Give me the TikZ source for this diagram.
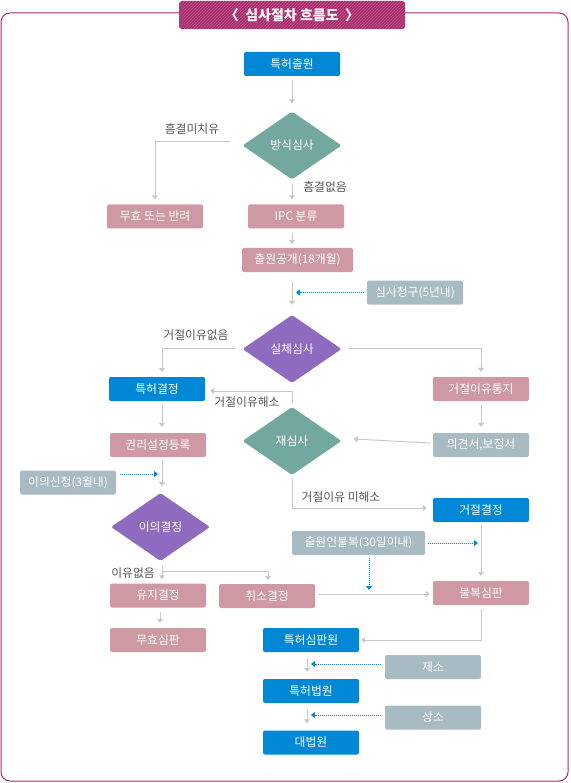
\documentclass[tikz,border=0pt]{standalone}
\usepackage{fontspec}
\setmainfont{Noto Sans CJK KR}
\usepackage{tikz}
\usetikzlibrary{arrows.meta,positioning,shapes.geometric,patterns,calc}
\usepackage{xcolor}
\definecolor{tkBlue}{HTML}{0088D6}
\definecolor{tkPink}{HTML}{CE99A2}
\definecolor{tkGray}{HTML}{A8BAC2}
\definecolor{tkTeal}{HTML}{72A8A0}
\definecolor{tkPurple}{HTML}{8F6BC0}
\definecolor{tkLine}{HTML}{C8C8C8}
\definecolor{tkFrame}{HTML}{A82C6C}
\definecolor{tkText}{HTML}{555555}

\begin{document}
\begin{tikzpicture}[
  x=1pt, y=-1pt,
  font=\fontsize{11.8}{13}\selectfont,
  box/.style={rectangle, rounded corners=2pt, minimum width=96pt, minimum height=24pt, inner sep=0pt, text=white},
  bluebox/.style={box, fill=tkBlue},
  pinkbox/.style={box, fill=tkPink},
  graybox/.style={box, fill=tkGray},
  dia/.style={diamond, rounded corners=2pt, minimum width=99pt, minimum height=68pt, inner sep=0pt, text=white},
  lbl/.style={text=tkText, inner sep=1pt},
  arr/.style={draw=tkLine, line width=1pt, -{Triangle[width=6pt,length=4pt]}},
  dot/.style={draw=tkBlue, densely dotted, line width=1pt, -{Triangle[width=6pt,length=4pt]}},
  banner/.style={rectangle, rounded corners=3pt, fill=tkFrame, minimum width=226pt, minimum height=28pt,
    text=white, font=\bfseries\fontsize{14}{16}\selectfont,
    postaction={pattern=north east lines, pattern color=white!22!tkFrame}}
]
\useasboundingbox (0,0) rectangle (570,783);
\draw[tkFrame, line width=1pt, rounded corners=9pt] (1,13) rectangle (568,781);
\node[banner] (title) at (292,15) {〈\ \ 심사절차\ 흐름도\ \ 〉};

\node[bluebox] (chul) at (292,64) {특허출원};
\node[dia, fill=tkTeal] (bang) at (292,145.5) {방식심사};
\node[pinkbox] (muhyo) at (155,216.5) {무효 또는 반려};
\node[pinkbox] (ipc) at (296,216.5) {IPC 분류};
\node[pinkbox, minimum width=111pt] (gong) at (297.5,260) {출원공개(18개월)};
\node[graybox] (cheong) at (415,292.5) {심사청구(5년내)};
\node[dia, fill=tkPurple] (silche) at (292,349) {실체심사};
\node[bluebox] (teukgyeol) at (157,389) {특허결정};
\node[pinkbox] (tongji) at (481,389) {거절이유통지};
\node[dia, fill=tkTeal] (jae) at (292,441) {재심사};
\node[graybox] (uigyeon) at (481,445) {의견서,보정서};
\node[pinkbox] (gwonri) at (158,445) {권리설정등록};
\node[graybox] (iui) at (68,482.5) {이의신청(3월내)};
\node[dia, fill=tkPurple] (iuigyeol) at (160.5,527) {이의결정};
\node[bluebox] (geojeol) at (481,510) {거절결정};
\node[graybox, minimum width=133pt] (bulbok30) at (358.5,543) {출원인불복(30일이내)};
\node[pinkbox] (yuji) at (158,595.5) {유지결정};
\node[pinkbox] (chwiso) at (267,596) {취소결정};
\node[pinkbox] (bulbok) at (481,593) {불복심판};
\node[pinkbox] (muhyosim) at (158,640) {무효심판};
\node[bluebox] (simpan) at (311,640) {특허심판원};
\node[graybox] (jeso) at (433,667) {제소};
\node[bluebox] (beobwon) at (311,691) {특허법원};
\node[graybox] (sangso) at (433,717.5) {상소};
\node[bluebox] (daebeob) at (311,742.5) {대법원};

\node[lbl] (l_heum) at (192,129) {흠결미치유};
\node[lbl] (l_eopsum) at (325,187) {흠결없음};
\node[lbl] (l_geoeop) at (196,335) {거절이유없음};
\node[lbl] (l_haeso) at (247,402) {거절이유해소};
\node[lbl] (l_mihae) at (341,497) {거절이유 미해소};
\node[lbl] (l_iyu) at (133,573) {이유없음};

\draw[arr] ($(chul.south)+(0,4)$) -- ($(bang.north)+(0,-8)$);
\draw[arr] ($(bang.west)+(-12,-4)$) -| ($(muhyo.north)+(0,-5)$);
\draw[arr] ($(bang.south)+(0,4)$) -- ($(bang.south |- ipc.north)+(0,-5)$);
\draw[arr] ($(ipc.south -| bang)+(0,4)$) -- ($(gong.north -| bang)+(0,-4)$);
\draw[arr] ($(gong.south -| bang)+(0,10)$) -- ($(silche.north)+(0,-10)$);
\draw[dot] ($(cheong.west)+(-3,0)$) -- ($(cheong.west -| silche)+(4,0)$);
\draw[arr] ($(silche.west)+(-6,-1)$) -| ($(teukgyeol.north)+(5,-5)$);
\draw[arr] ($(silche.east)+(7,-1)$) -| ($(tongji.north)+(0,-5)$);
\draw[arr] ($(tongji.south)+(0,4)$) -- ($(uigyeon.north)+(0,-6)$);
\draw[arr] ($(uigyeon.west)+(-3,-2)$) -- ($(jae.east)+(12,-2)$);
\draw[arr] ($(jae.north)+(0,-4)$) |- ($(teukgyeol.east)+(5,2)$);
\draw[arr] ($(jae.south)+(0,4)$) |- ($(geojeol.west)+(-6,-2)$);
\draw[arr] ($(teukgyeol.south)+(5,4)$) -- ($(gwonri.north)+(4,-6)$);
\draw[arr] ($(gwonri.south)+(4,3)$) -- ($(iuigyeol.north)+(1.5,-7)$);
\draw[dot] ($(iui.east)+(4,-8.5)$) -- ($(gwonri.south |- iui.east)+(0,-8.5)$);
\draw[arr] ($(iuigyeol.south)+(1.5,5)$) -- ($(yuji.north)+(4,-4)$);
\draw[arr] ($(iuigyeol.south)+(1.5,10)$) -| ($(chwiso.north)+(1,-4)$);
\draw[arr] ($(yuji.south)+(2,4)$) -- ($(muhyosim.north)+(2,-5)$);
\draw[arr] ($(geojeol.south)+(0,3)$) -- ($(bulbok.north)+(0,-5)$);
\draw[dot] ($(bulbok30.east)+(3,0)$) -- ($(bulbok30.east -| bulbok)+(-3,0)$);
\draw[dot] ($(bulbok30.south)+(10.5,3)$) -- ($(bulbok30.south |- bulbok)+(10.5,-3)$);
\draw[arr] ($(chwiso.east)+(3,-2)$) -- ($(bulbok.west |- chwiso.east)+(-3,-2)$);
\draw[arr] ($(bulbok.south)+(0,4)$) |- ($(simpan.east)+(2,0)$);
\draw[arr] ($(simpan.south)+(-4,6)$) -- ($(beobwon.north)+(-4,-7)$);
\draw[dot] ($(jeso.west)+(-4,-3)$) -- ($(jeso.west -| simpan)+(0,-3)$);
\draw[arr] ($(beobwon.south)+(-4,7)$) -- ($(daebeob.north)+(-4,-7)$);
\draw[dot] ($(sangso.west)+(-4,-2.5)$) -- ($(sangso.west -| simpan)+(0,-2.5)$);
\end{tikzpicture}
\end{document}
